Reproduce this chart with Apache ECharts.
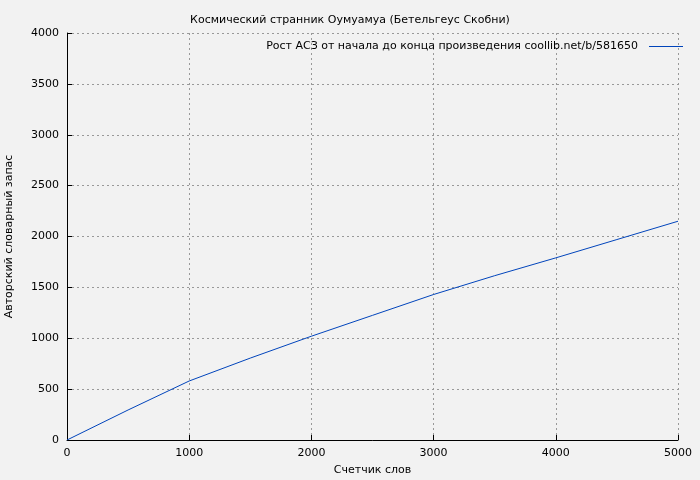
<!DOCTYPE html>
<html>
<head>
<meta charset="utf-8">
<script src="https://cdn.jsdelivr.net/npm/echarts@6/dist/echarts.min.js"></script>
<style>html,body{margin:0;padding:0;background:#f2f2f2}#chart{width:700px;height:480px}</style>
</head>
<body>
<div id="chart"></div>
<script>
const words = [0, 500, 1000, 1500, 2000, 2500, 3000, 3500, 4000, 4500, 5000];
const vocab = [0, 295, 580, 805, 1020, 1225, 1430, 1615, 1790, 1970, 2150];
const seriesName = 'Рост АСЗ от начала до конца произведения coollib.net/b/581650';

const chart = echarts.init(document.getElementById('chart'));
const axisCommon = {
  axisLine: { lineStyle: { color: '#000' } },
  axisTick: { inside: true, lineStyle: { color: '#000' } },
  axisLabel: { color: '#000', fontSize: 11, fontFamily: 'DejaVu Sans', formatter: v => String(v) },
  splitLine: { lineStyle: { color: '#999', type: [2, 3] } },
  nameTextStyle: { color: '#000', fontSize: 11, fontFamily: 'DejaVu Sans' },
  nameLocation: 'middle'
};
chart.setOption({
  backgroundColor: '#f2f2f2',
  animation: false,
  title: {
    text: 'Космический странник Оумуамуа (Бетельгеус Скобни)',
    left: 'center', top: 10,
    textStyle: { fontSize: 11, fontWeight: 'normal', color: '#000', fontFamily: 'DejaVu Sans' }
  },
  legend: {
    right: 12, top: 36, itemWidth: 34, itemHeight: 1, icon: 'rect', itemGap: 8,
    align: 'right',
    textStyle: { fontSize: 11, color: '#000', fontFamily: 'DejaVu Sans', padding: [0, 6, 0, 0] }
  },
  grid: { left: 67, right: 22, top: 33, bottom: 40, containLabel: false, outerBoundsMode: 'none' },
  xAxis: Object.assign({}, axisCommon, {
    type: 'value', min: 0, max: 5000, interval: 1000,
    name: 'Счетчик слов', nameGap: 25
  }),
  yAxis: Object.assign({}, axisCommon, {
    type: 'value', min: 0, max: 4000, interval: 500,
    name: 'Авторский словарный запас', nameGap: 52
  }),
  series: [{
    name: seriesName, type: 'line', showSymbol: false,
    lineStyle: { color: '#0044bb', width: 1 }, itemStyle: { color: '#0044bb' },
    data: words.map((w, i) => [w, vocab[i]])
  }]
});
</script>
</body>
</html>
